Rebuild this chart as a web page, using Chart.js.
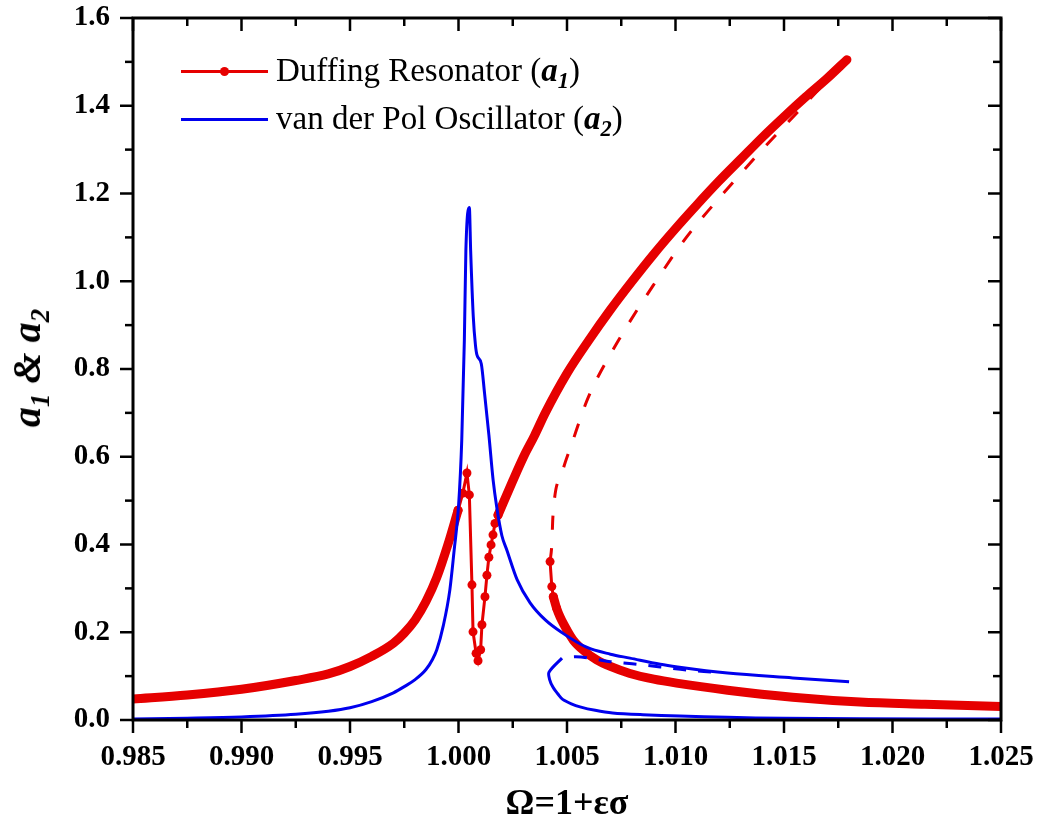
<!DOCTYPE html>
<html>
<head>
<meta charset="utf-8">
<script src="https://cdn.jsdelivr.net/npm/chart.js@4.4.1/dist/chart.umd.min.js"></script>
<style>
  body { margin: 0; background: #fff; }
  #wrap { position: relative; width: 1039px; height: 826px; }
  #ytitle {
    position: absolute; left: 27px; top: 368px;
    transform: translate(-50%, -50%) rotate(-90deg);
    white-space: nowrap; font: italic bold 40px "Liberation Serif", serif; line-height: 1;
  }
  #ytitle sub, .leg sub { font-size: 0.68em; vertical-align: -0.32em; line-height: 0; }
  .leg { position: absolute; left: 276px; font: 33px "Liberation Serif", serif; line-height: 33px; white-space: nowrap; }
  .sample { position: absolute; left: 181px; width: 87px; height: 3px; }
  .dot { position: absolute; left: 39px; top: -3px; width: 9px; height: 9px; border-radius: 50%; }
</style>
</head>
<body>
<div id="wrap">
  <canvas id="chart" width="1039" height="826"></canvas>
  <div id="ytitle">a<sub>1</sub> &amp; a<sub>2</sub></div>
  <div class="sample" style="top:70px;background:#e60000"><div class="dot" style="background:#e60000"></div></div>
  <div class="leg" style="top:54px">Duffing Resonator (<b><i>a</i></b><sub><b><i>1</i></b></sub>)</div>
  <div class="sample" style="top:118px;background:#0000ee"></div>
  <div class="leg" style="top:102px">van der Pol Oscillator (<b><i>a</i></b><sub><b><i>2</i></b></sub>)</div>
</div>
<script>
// axis ticks
const xMajorTicks = [0.985, 0.990, 0.995, 1.000, 1.005, 1.010, 1.015, 1.020, 1.025];
const xMinorTicks = [0.9875, 0.9925, 0.9975, 1.0025, 1.0075, 1.0125, 1.0175, 1.0225];
const yMajorTicks = [0.0, 0.2, 0.4, 0.6, 0.8, 1.0, 1.2, 1.4, 1.6];
const yMinorTicks = [0.1, 0.3, 0.5, 0.7, 0.9, 1.1, 1.3, 1.5];

// Duffing resonator (a1)
const duffingLowX = [0.985, 0.9875, 0.990, 0.9925, 0.994, 0.995, 0.996, 0.997, 0.9975, 0.998, 0.9985, 0.999, 0.9995, 0.99998];
const duffingLowY = [0.048, 0.057, 0.070, 0.090, 0.105, 0.122, 0.145, 0.175, 0.198, 0.228, 0.270, 0.325, 0.398, 0.478];
const duffingDipX = [0.99998, 1.0002, 1.00039, 1.0005, 1.00062, 1.00067, 1.00081, 1.0009, 1.00102, 1.00108, 1.00122, 1.00131, 1.0014, 1.0015, 1.00159, 1.00168, 1.00182];
const duffingDipY = [0.478, 0.517, 0.563, 0.513, 0.308, 0.201, 0.152, 0.135, 0.160, 0.217, 0.281, 0.330, 0.371, 0.399, 0.422, 0.448, 0.467];
const duffingHighX = [1.00182, 1.0025, 1.003, 1.0035, 1.004, 1.005, 1.006, 1.007, 1.008, 1.009, 1.010, 1.011, 1.012, 1.013, 1.014, 1.015, 1.016, 1.017, 1.0179];
const duffingHighY = [0.467, 0.545, 0.600, 0.648, 0.700, 0.790, 0.865, 0.935, 1.000, 1.062, 1.120, 1.175, 1.228, 1.278, 1.328, 1.375, 1.420, 1.463, 1.505];
const duffingUnstableX = [1.00422, 1.0043, 1.00435, 1.00477, 1.00523, 1.00597, 1.0073, 1.0091, 1.0105, 1.0122, 1.0140, 1.0159, 1.0179];
const duffingUnstableY = [0.361, 0.400, 0.463, 0.563, 0.631, 0.734, 0.859, 1.000, 1.100, 1.200, 1.300, 1.400, 1.505];
const duffingJumpX = [1.00422, 1.0043, 1.00437, 1.00452];
const duffingJumpY = [0.361, 0.304, 0.281, 0.255];
const duffingTailX = [1.00437, 1.00452, 1.00468, 1.0050, 1.00529, 1.0058, 1.00637, 1.0070, 1.0079, 1.009, 1.01005, 1.0124, 1.0154, 1.0185, 1.0215, 1.025];
const duffingTailY = [0.281, 0.255, 0.235, 0.205, 0.182, 0.157, 0.137, 0.122, 0.106, 0.093, 0.084, 0.068, 0.052, 0.041, 0.036, 0.031];

// van der Pol oscillator (a2)
const vdpMainX = [0.985, 0.9875, 0.990, 0.9925, 0.994, 0.995, 0.996, 0.997, 0.9975, 0.998, 0.9985, 0.9988, 0.999, 0.9993, 0.9996, 0.9998, 1.0000, 1.00015, 1.00027, 1.00034, 1.0005, 1.00056, 1.00068, 1.00078, 1.00085, 1.00105, 1.0012, 1.0014, 1.0016, 1.00176, 1.0020, 1.00223, 1.0027, 1.0033, 1.004, 1.0048, 1.0059, 1.007, 1.0079, 1.0093, 1.0101, 1.0124, 1.0154, 1.018];
const vdpMainY = [0.002, 0.004, 0.007, 0.013, 0.020, 0.028, 0.042, 0.062, 0.076, 0.092, 0.115, 0.138, 0.160, 0.215, 0.296, 0.387, 0.486, 0.638, 0.866, 1.070, 1.168, 1.070, 0.920, 0.855, 0.832, 0.812, 0.745, 0.650, 0.545, 0.486, 0.420, 0.387, 0.320, 0.267, 0.228, 0.198, 0.166, 0.150, 0.141, 0.127, 0.121, 0.107, 0.096, 0.087];
const vdpLowerX = [1.00477, 1.00417, 1.0042, 1.00435, 1.0046, 1.0048, 1.0052, 1.0056, 1.0063, 1.0071, 1.0085, 1.0102, 1.0124, 1.015, 1.0185, 1.025];
const vdpLowerY = [0.141, 0.109, 0.092, 0.075, 0.058, 0.047, 0.037, 0.030, 0.022, 0.016, 0.012, 0.009, 0.006, 0.004, 0.003, 0.002];
const vdpUnstableX = [1.00477, 1.0054, 1.0070, 1.0080, 1.0093, 1.0105, 1.0117];
const vdpUnstableY = [0.141, 0.144, 0.133, 0.128, 0.121, 0.114, 0.109];

const RED = '#e60000';
const BLUE = '#0000ee';
const FONT = '"Liberation Serif", "Times New Roman", serif';

function toPoints(xs, ys) {
    return xs.map((x, i) => ({ x: x, y: ys[i] }));
}

function thickRed(label, xs, ys) {
    return {
        label: label, data: toPoints(xs, ys), borderColor: RED, backgroundColor: RED,
        borderWidth: 9, pointRadius: 0, cubicInterpolationMode: 'monotone',
        borderCapStyle: 'round', borderJoinStyle: 'round'
    };
}

function dottedRed(label, xs, ys) {
    return {
        label: label, data: toPoints(xs, ys), borderColor: RED, backgroundColor: RED,
        borderWidth: 3, pointRadius: 4.5, pointBorderWidth: 0, pointBackgroundColor: RED, tension: 0
    };
}

// frame + inner/outer ticks like the original plot
const frameTicks = {
    id: 'frameTicks',
    afterDraw(chart) {
        const { ctx, chartArea: a, scales: { x, y } } = chart;
        ctx.save();
        ctx.strokeStyle = '#000';
        ctx.lineWidth = 2.5;
        const line = (x1, y1, x2, y2) => { ctx.beginPath(); ctx.moveTo(x1, y1); ctx.lineTo(x2, y2); ctx.stroke(); };
        xMajorTicks.forEach(v => { const p = x.getPixelForValue(v); line(p, a.bottom, p, a.bottom + 13); line(p, a.top, p, a.top + 13); });
        xMinorTicks.forEach(v => { const p = x.getPixelForValue(v); line(p, a.bottom, p, a.bottom + 8); line(p, a.top, p, a.top + 8); });
        yMajorTicks.forEach(v => { const p = y.getPixelForValue(v); line(a.left - 13, p, a.left, p); line(a.right - 13, p, a.right, p); });
        yMinorTicks.forEach(v => { const p = y.getPixelForValue(v); line(a.left - 8, p, a.left, p); line(a.right - 8, p, a.right, p); });
        ctx.lineWidth = 3;
        ctx.strokeRect(a.left, a.top, a.right - a.left, a.bottom - a.top);
        ctx.restore();
    }
};

new Chart(document.getElementById('chart'), {
    type: 'line',
    data: {
        datasets: [
            { label: 'van der Pol Oscillator (a2)', data: toPoints(vdpMainX, vdpMainY), borderColor: BLUE, borderWidth: 3, pointRadius: 0, cubicInterpolationMode: 'monotone' },
            { label: 'vdp lower', data: toPoints(vdpLowerX, vdpLowerY), borderColor: BLUE, borderWidth: 3, pointRadius: 0, tension: 0.3 },
            { label: 'vdp unstable', data: toPoints(vdpUnstableX, vdpUnstableY), borderColor: BLUE, borderWidth: 3, pointRadius: 0, borderDash: [13, 12], borderDashOffset: 13, cubicInterpolationMode: 'monotone' },
            dottedRed('Duffing Resonator (a1)', duffingDipX, duffingDipY),
            dottedRed('duffing jump', duffingJumpX, duffingJumpY),
            thickRed('duffing low', duffingLowX, duffingLowY),
            thickRed('duffing high', duffingHighX, duffingHighY),
            thickRed('duffing tail', duffingTailX, duffingTailY),
            { label: 'duffing unstable', data: toPoints(duffingUnstableX, duffingUnstableY), borderColor: RED, borderWidth: 3, pointRadius: 0, borderDash: [14, 18], cubicInterpolationMode: 'monotone' }
        ]
    },
    options: {
        responsive: false,
        animation: false,
        devicePixelRatio: 1,
        layout: { padding: { top: 18, right: 38, left: 0, bottom: 0 } },
        plugins: { legend: { display: false }, tooltip: { enabled: false } },
        scales: {
            x: {
                type: 'linear', min: 0.985, max: 1.025,
                afterBuildTicks: s => { s.ticks = xMajorTicks.map(v => ({ value: v })); },
                afterFit: s => { s.height = 106; s.paddingLeft = 0; s.paddingRight = 0; },
                grid: { display: false, drawTicks: false },
                border: { display: false },
                ticks: { color: '#000', font: { family: FONT, size: 29, weight: 'bold' }, padding: 20, maxRotation: 0, autoSkip: false, callback: v => v.toFixed(3) },
                title: { display: true, text: 'Ω=1+εσ', color: '#000', font: { family: FONT, size: 36, weight: 'bold' }, padding: { top: 0, bottom: 0 } }
            },
            y: {
                min: 0, max: 1.6,
                afterBuildTicks: s => { s.ticks = yMajorTicks.map(v => ({ value: v })); },
                afterFit: s => { s.width = 133; s.paddingTop = 0; s.paddingBottom = 0; },
                grid: { display: false, drawTicks: false },
                border: { display: false },
                ticks: { color: '#000', font: { family: FONT, size: 29, weight: 'bold' }, padding: 23, autoSkip: false, callback: v => v.toFixed(1) }
            }
        }
    },
    plugins: [frameTicks]
});
</script>
</body>
</html>
